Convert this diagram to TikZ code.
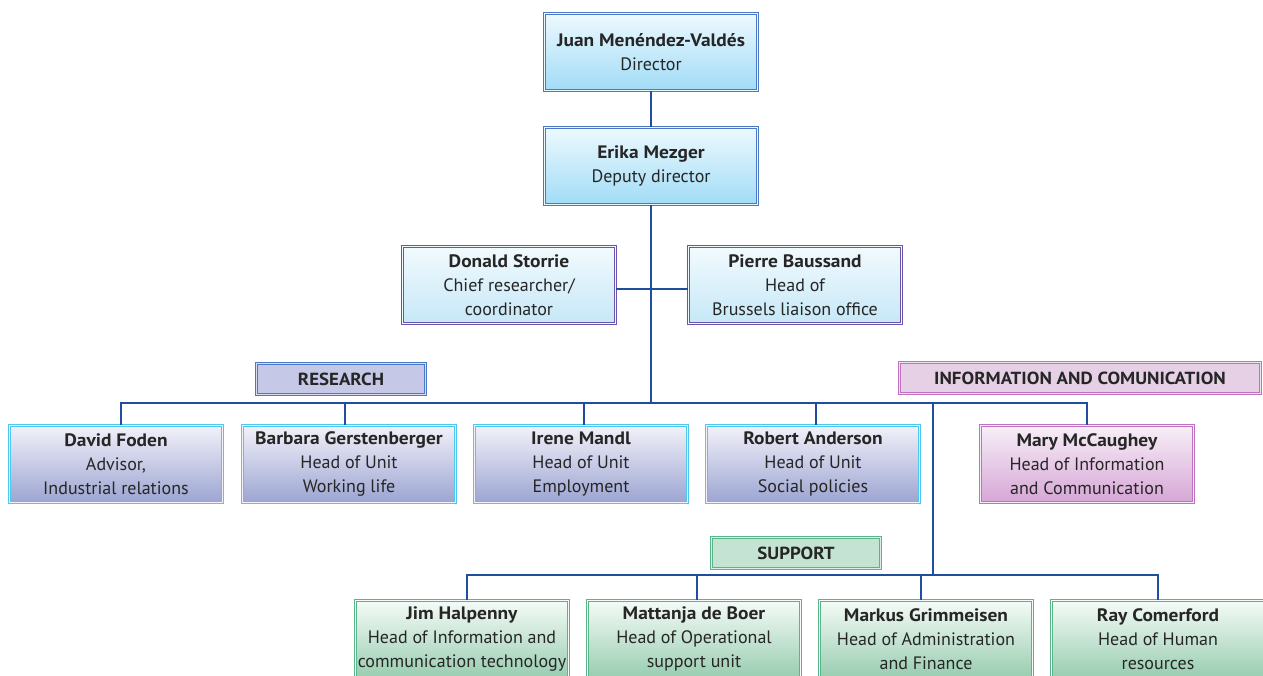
\documentclass[tikz,border=0pt]{standalone}
\usepackage{fontspec}
\setmainfont{PT Sans}[BoldFeatures={FakeStretch=1.08}]
\definecolor{conn}{HTML}{1F4E9E}
\definecolor{bluebd}{HTML}{4A78C4}
\definecolor{purpbd}{HTML}{6A55AC}
\definecolor{cyanbd}{HTML}{4FC8F0}
\definecolor{pinkbd}{HTML}{BE72C0}
\definecolor{greenbd}{HTML}{5BB58A}
\definecolor{txt}{HTML}{262626}
\definecolor{bluetop}{RGB}{238,249,254}
\definecolor{bluebot}{RGB}{160,220,246}
\definecolor{liatop}{RGB}{242,250,254}
\definecolor{liabot}{RGB}{198,232,247}
\definecolor{restop}{RGB}{242,242,249}
\definecolor{resbot}{RGB}{156,164,210}
\definecolor{inftop}{RGB}{247,239,247}
\definecolor{infbot}{RGB}{214,166,214}
\definecolor{suptop}{RGB}{245,251,247}
\definecolor{supbot}{RGB}{152,205,176}
\definecolor{resfill}{RGB}{197,200,230}
\definecolor{inffill}{RGB}{230,208,230}
\definecolor{supfill}{RGB}{196,227,211}
\tikzset{
  box/.style={draw, line width=0.8pt, double distance=1.2pt,
    minimum width=213pt, minimum height=77pt, inner sep=0pt, align=center,
    font=\fontsize{18}{24}\selectfont, text=txt},
  bluebox/.style={box, draw=bluebd, double=bluetop, top color=bluetop, bottom color=bluebot},
  liabox/.style={box, draw=purpbd, double=liatop, top color=liatop, bottom color=liabot},
  resbox/.style={box, draw=cyanbd, double=restop, top color=restop, bottom color=resbot},
  infbox/.style={box, draw=pinkbd, double=inftop, top color=inftop, bottom color=infbot},
  supbox/.style={box, draw=greenbd, double=suptop, top color=suptop, bottom color=supbot},
  lbl/.style={inner sep=0pt, minimum height=30pt, font=\fontsize{17.5}{20}\selectfont\bfseries, text=txt},
  lblframe/.style={line width=0.9pt, double distance=1.1pt},
  conline/.style={draw=conn, line width=2.5pt}
}
\begin{document}
\begin{tikzpicture}[x=1pt,y=-1pt]
\useasboundingbox (0,0) rectangle (1263,675);
% top
\node[bluebox] (dir) at (651,52) {\textbf{Juan Menéndez-Valdés}\\Director};
\node[bluebox] (dep) at (651,166) {\textbf{Erika Mezger}\\Deputy director};
\node[liabox] (don) at (509,285) {\textbf{Donald Storrie}\\Chief researcher/\\coordinator};
\node[liabox] (pie) at (795,285) {\textbf{Pierre Baussand}\\Head of\\Brussels liaison office};
% labels
\node[lbl, fill=resfill, minimum width=168pt] (lres) at (341,379) {RESEARCH};
\node[lbl, fill=inffill, minimum width=360pt] (linf) at (1080,378) {INFORMATION AND COMUNICATION};
\node[lbl, fill=supfill, minimum width=168pt] (lsup) at (796,553) {SUPPORT};
\draw[lblframe, draw=bluebd, double=white!40!resfill] (lres.south west) rectangle (lres.north east);
\draw[lblframe, draw=pinkbd, double=white!40!inffill] (linf.south west) rectangle (linf.north east);
\draw[lblframe, draw=greenbd, double=white!40!supfill] (lsup.south west) rectangle (lsup.north east);
% research row
\node[resbox] (dav) at (116,464) {\textbf{David Foden}\\Advisor,\\Industrial relations};
\node[resbox] (bar) at (349,464) {\textbf{Barbara Gerstenberger}\\Head of Unit\\Working life};
\node[resbox] (ire) at (581,464) {\textbf{Irene Mandl}\\Head of Unit\\Employment};
\node[resbox] (rob) at (813,464) {\textbf{Robert Anderson}\\Head of Unit\\Social policies};
\node[infbox] (mar) at (1087,464) {\textbf{Mary McCaughey}\\Head of Information\\and Communication};
% support row
\node[supbox] (jim) at (462,639) {\textbf{Jim Halpenny}\\Head of Information and\\communication technology};
\node[supbox] (mat) at (694,639) {\textbf{Mattanja de Boer}\\Head of Operational\\support unit};
\node[supbox] (mak) at (926,639) {\textbf{Markus Grimmeisen}\\Head of Administration\\and Finance};
\node[supbox] (ray) at (1158,639) {\textbf{Ray Comerford}\\Head of Human\\resources};
% junctions
\coordinate (jl) at (651,289);
\coordinate (rb) at (651,403);
\coordinate (sj) at (933,403);
\coordinate (sb) at (933,575);
% connectors
\draw[conline] (dir.south) -- (dep.north);
\draw[conline] (dep.south) -- (rb);
\draw[conline] (don.east |- jl) -- (pie.west |- jl);
\draw[conline] ([xshift=5pt]dav.north) |- (mar.north |- rb) -- (mar.north);
\draw[conline] ([xshift=-4pt]bar.north) -- ([xshift=-4pt]bar.north |- rb);
\draw[conline] ([xshift=3pt]ire.north) -- ([xshift=3pt]ire.north |- rb);
\draw[conline] ([xshift=3pt]rob.north) -- ([xshift=3pt]rob.north |- rb);
\draw[conline] (sj) -- (sb);
\draw[conline] ([xshift=5pt]jim.north) |- (ray.north |- sb) -- (ray.north);
\draw[conline] ([xshift=3pt]mat.north) -- ([xshift=3pt]mat.north |- sb);
\draw[conline] ([xshift=-5pt]mak.north) -- ([xshift=-5pt]mak.north |- sb);
\end{tikzpicture}
\end{document}
